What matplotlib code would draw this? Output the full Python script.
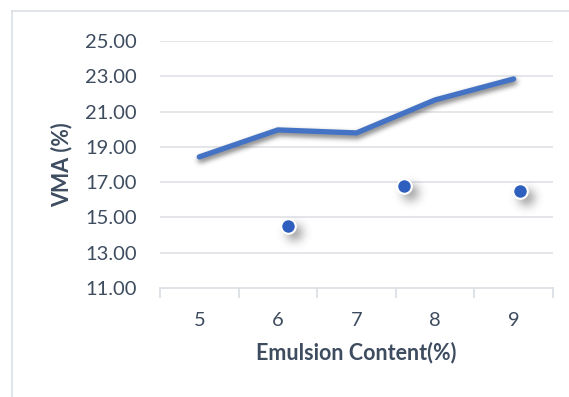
import numpy as np
import matplotlib
matplotlib.use("Agg")
import matplotlib.pyplot as plt
from matplotlib.lines import Line2D
from matplotlib.ticker import FixedLocator, NullFormatter

# Data
emulsion = [5, 6, 7, 8, 9]
vma_line = [18.43, 19.96, 19.79, 21.66, 22.85]
scatter_x = [6.13, 7.60, 9.08]
scatter_vma = [14.51, 16.78, 16.50]
y_ticks = [11, 13, 15, 17, 19, 21, 23, 25]

text_color = "#3e4c60"
grid_color = "#dcdfe4"
line_color = "#4472c4"
marker_color = "#2f5fbe"

plt.rcParams["font.family"] = ["Lato", "DejaVu Sans"]


def _blur1d(a, r, axis):
    k = 2 * r + 1
    pad = [(0, 0)] * a.ndim
    pad[axis] = (r + 1, r)
    c = np.cumsum(np.pad(a, pad, mode="constant"), axis=axis)
    hi = np.take(c, range(k, c.shape[axis]), axis=axis)
    lo = np.take(c, range(0, c.shape[axis] - k), axis=axis)
    return (hi - lo) / k


class SoftShadow:
    """agg_filter that turns an artist into a blurred, offset grey shadow."""

    def __init__(self, radius, dx, dy, alpha, grey=0.25):
        self.radius, self.dx, self.dy = radius, dx, dy
        self.alpha, self.grey = alpha, grey

    def __call__(self, im, dpi):
        r = self.radius
        pad = 3 * r
        a = np.pad(im[:, :, 3], pad, mode="constant")
        for _ in range(3):
            a = _blur1d(a, r, 0)
            a = _blur1d(a, r, 1)
        out = np.zeros(a.shape + (4,), dtype=float)
        out[:, :, :3] = self.grey
        out[:, :, 3] = np.clip(a * self.alpha, 0, 1)
        return out, -pad + self.dx, -pad - self.dy


fig = plt.figure(figsize=(5.69, 3.97), dpi=100)
ax = fig.add_axes([160 / 569, 1 - 288 / 397, 393 / 569, 247 / 397])

# Chart frame (top and left edges)
fig.add_artist(Line2D([12 / 569, 12 / 569], [0, 1 - 11 / 397], color=grid_color, lw=1.2,
                      transform=fig.transFigure))
fig.add_artist(Line2D([12 / 569, 1], [1 - 11 / 397, 1 - 11 / 397], color=grid_color, lw=1.2,
                      transform=fig.transFigure))

ax.set_xlim(4.5, 9.5)
ax.set_ylim(11, 25)

for y in y_ticks[1:]:
    ax.axhline(y, color=grid_color, lw=1.1, zorder=0)

# VMA line with a soft shadow
shadow_line, = ax.plot(emulsion, vma_line, color="k", lw=4, solid_capstyle="round",
                       solid_joinstyle="round", zorder=2)
shadow_line.set_agg_filter(SoftShadow(2, 1, 3, 0.7))
shadow_line.set_rasterized(True)
ax.plot(emulsion, vma_line, color=line_color, lw=3.8, solid_capstyle="round",
        solid_joinstyle="round", zorder=3)

# Individual measurements with soft shadows
sh = ax.scatter(scatter_x, scatter_vma, s=130, color="k", linewidths=0, zorder=3)
sh.set_agg_filter(SoftShadow(3, 3, 3, 0.75))
sh.set_rasterized(True)
ax.scatter(scatter_x, scatter_vma, s=110, color=marker_color, edgecolor="white", linewidths=1.5,
           zorder=4)

for side in ["top", "right", "left"]:
    ax.spines[side].set_visible(False)
ax.spines["bottom"].set_color(grid_color)
ax.spines["bottom"].set_linewidth(1.3)

ax.set_xticks(emulsion)
ax.set_xticklabels([str(v) for v in emulsion])
ax.xaxis.set_minor_locator(FixedLocator([4.5, 5.5, 6.5, 7.5, 8.5, 9.5]))
ax.xaxis.set_minor_formatter(NullFormatter())
ax.tick_params(axis="x", which="major", length=0, pad=17.5, labelsize=14.5, labelcolor=text_color)
ax.tick_params(axis="x", which="minor", length=7, width=1.3, color=grid_color, direction="out")

ax.set_yticks(y_ticks)
ax.set_yticklabels([f"{v:.2f}" for v in y_ticks])
ax.tick_params(axis="y", length=0, pad=16.5, labelsize=14.5, labelcolor=text_color)

ax.set_xlabel("Emulsion Content(%)", fontsize=15.5, fontweight="bold", color=text_color, labelpad=9)
ax.set_ylabel("VMA (%)", fontsize=15.5, fontweight="bold", color=text_color, labelpad=9)

fig.savefig("out.png", dpi=100)
